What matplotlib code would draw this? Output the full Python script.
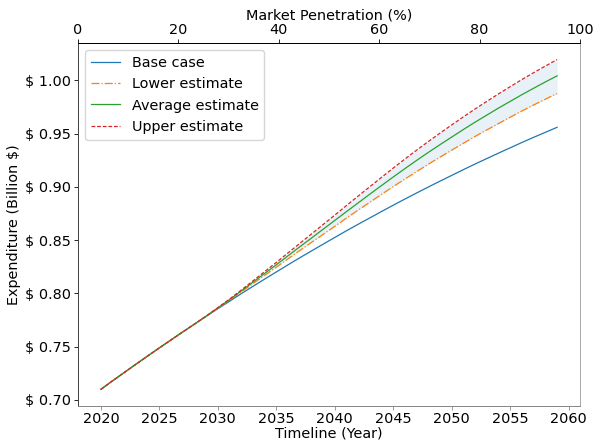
import matplotlib
matplotlib.use("Agg")
import matplotlib.pyplot as plt
from matplotlib.ticker import FuncFormatter

# Annual expenditure projections (billion $), 2020-2059
years = list(range(2020, 2060))

base_case = [
    0.7100, 0.7180, 0.7258, 0.7336, 0.7413, 0.7489, 0.7564, 0.7639, 0.7712, 0.7785,
    0.7857, 0.7927, 0.7998, 0.8067, 0.8135, 0.8202, 0.8269, 0.8335, 0.8399, 0.8463,
    0.8526, 0.8589, 0.8650, 0.8710, 0.8770, 0.8829, 0.8887, 0.8944, 0.9000, 0.9055,
    0.9109, 0.9163, 0.9216, 0.9267, 0.9318, 0.9368, 0.9418, 0.9466, 0.9513, 0.9560,
]

lower_estimate = [
    0.7100, 0.7180, 0.7258, 0.7336, 0.7413, 0.7489, 0.7564, 0.7639, 0.7712, 0.7787,
    0.7862, 0.7937, 0.8015, 0.8093, 0.8170, 0.8247, 0.8325, 0.8403, 0.8479, 0.8555,
    0.8631, 0.8708, 0.8783, 0.8857, 0.8931, 0.9004, 0.9075, 0.9145, 0.9214, 0.9281,
    0.9346, 0.9411, 0.9475, 0.9536, 0.9596, 0.9655, 0.9714, 0.9770, 0.9824, 0.9878,
]

average_estimate = [
    0.7100, 0.7180, 0.7258, 0.7336, 0.7413, 0.7489, 0.7564, 0.7639, 0.7712, 0.7787,
    0.7865, 0.7942, 0.8024, 0.8106, 0.8188, 0.8270, 0.8354, 0.8438, 0.8520, 0.8603,
    0.8686, 0.8769, 0.8851, 0.8933, 0.9014, 0.9094, 0.9173, 0.9250, 0.9325, 0.9398,
    0.9469, 0.9540, 0.9609, 0.9675, 0.9741, 0.9804, 0.9867, 0.9927, 0.9986, 1.0043,
]

upper_estimate = [
    0.7100, 0.7180, 0.7258, 0.7336, 0.7413, 0.7489, 0.7564, 0.7639, 0.7712, 0.7788,
    0.7867, 0.7947, 0.8032, 0.8118, 0.8205, 0.8292, 0.8381, 0.8470, 0.8558, 0.8647,
    0.8736, 0.8826, 0.8915, 0.9003, 0.9091, 0.9178, 0.9263, 0.9346, 0.9427, 0.9506,
    0.9583, 0.9659, 0.9733, 0.9804, 0.9874, 0.9942, 1.0009, 1.0073, 1.0135, 1.0196,
]

penetration_range = (0, 100)

FS = 10.4
plt.rcParams.update({
    "axes.linewidth": 0.7,
    "xtick.major.size": 2.6, "ytick.major.size": 2.6,
    "xtick.major.width": 0.6, "ytick.major.width": 0.6,
    "xtick.major.pad": 2.0, "ytick.major.pad": 2.6,
})

fig = plt.figure(figsize=(5.96, 4.44), dpi=100)
ax = fig.add_axes([0.131, 0.086, 0.842, 0.817])

ax.plot(years, base_case, color="C0", lw=0.9, ls="-", label="Base case")
ax.plot(years, lower_estimate, color="C1", lw=0.9, ls="-.", label="Lower estimate")
ax.plot(years, average_estimate, color="C2", lw=0.9, ls="-", label="Average estimate")
ax.plot(years, upper_estimate, color="C3", lw=0.9, ls="--", dashes=(3, 1.5),
        label="Upper estimate")
ax.fill_between(years, lower_estimate, upper_estimate, color="C0", alpha=0.1, lw=0)

ax.set_xlabel("Timeline (Year)", fontsize=FS, labelpad=0)
ax.set_ylabel("Expenditure (Billion \\$)", fontsize=FS, labelpad=3)
ax.yaxis.set_major_formatter(FuncFormatter(lambda v, _: f"\\$ {v:.2f}"))
ax.set_xticks(range(2020, 2061, 5))
ax.tick_params(labelsize=FS)
ax.legend(loc="upper left", fontsize=FS, borderaxespad=0.5)

# Secondary axis for market penetration
ax_top = ax.twiny()
ax_top.set_xlim(*penetration_range)
ax_top.set_xlabel("Market Penetration (%)", fontsize=FS, labelpad=2)
ax_top.tick_params(labelsize=FS)

for a in (ax, ax_top):
    a.spines["top"].set_color("black")
    a.spines["left"].set_color("#444444")
    a.spines["bottom"].set_color("#888888")
    a.spines["right"].set_color("#aaaaaa")
ax.tick_params(axis="x", color="#888888")

fig.savefig("out.png", dpi=100)
